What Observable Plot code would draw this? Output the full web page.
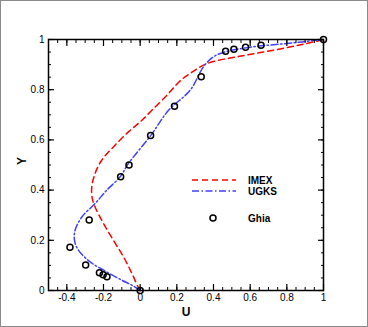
<!DOCTYPE html>
<html><head><meta charset="utf-8">
<script src="https://cdn.jsdelivr.net/npm/d3@7"></script>
<script src="https://cdn.jsdelivr.net/npm/@observablehq/plot@0.6"></script>
<style>
body{margin:0;background:#fff;}
#wrap{position:relative;width:368px;height:327px;overflow:hidden;}
#border{position:absolute;left:0;top:0;width:366px;height:325px;border:1px solid #8a8a8a;pointer-events:none;}
#legend{position:absolute;left:0;top:0;}
</style></head><body><div id="wrap"><div id="border"></div></div>
<script>
// Ghia et al. reference data
const ghiaY = [1, 0.9766, 0.9688, 0.9609, 0.9531, 0.8516, 0.7344, 0.6172, 0.5, 0.4531, 0.2813, 0.1719, 0.1016, 0.0703, 0.0625, 0.0547, 0];
const ghiaU = [1, 0.65928, 0.57492, 0.51117, 0.46604, 0.33304, 0.18719, 0.05702, -0.0608, -0.10648, -0.27805, -0.38289, -0.2973, -0.2222, -0.20196, -0.18109, 0];
// IMEX curve
const imexY = [0, 0.015, 0.068, 0.134, 0.2, 0.267, 0.333, 0.37, 0.413, 0.466, 0.519, 0.572, 0.632, 0.672, 0.718, 0.785, 0.835, 0.865, 0.904, 0.931, 0.955, 0.981, 1];
const imexU = [0, -0.012, -0.045, -0.091, -0.146, -0.2, -0.246, -0.262, -0.264, -0.246, -0.21, -0.146, -0.064, 0.0, 0.064, 0.155, 0.218, 0.273, 0.364, 0.527, 0.709, 0.89, 1];
// UGKS curve
const ugksY = [0, 0.021, 0.041, 0.074, 0.114, 0.161, 0.2, 0.24, 0.293, 0.347, 0.4, 0.453, 0.503, 0.617, 0.718, 0.798, 0.891, 0.931, 0.951, 0.971, 0.984, 1];
const ugksU = [0, -0.045, -0.1, -0.182, -0.273, -0.337, -0.358, -0.355, -0.318, -0.245, -0.182, -0.109, -0.067, 0.057, 0.155, 0.273, 0.345, 0.4, 0.464, 0.618, 0.8, 1];
// ticks
const xMajor = [-0.4, -0.2, 0, 0.2, 0.4, 0.6, 0.8, 1];
const xLabels = ["-0.4", "-0.2", "0", "0.2", "0.4", "0.6", "0.8", "1"];
const yMajor = [0, 0.2, 0.4, 0.6, 0.8, 1];
const yLabels = ["0", "0.2", "0.4", "0.6", "0.8", "1"];
const xMinor = d3.range(-30, 21).map(i => i * 0.05).filter(v => v >= -0.5 - 1e-9 && v <= 1 + 1e-9);
const yMinor = d3.range(0, 21).map(i => i * 0.05);
const seriesNames = ["IMEX", "UGKS", "Ghia"];
const colors = {IMEX: "#ff0000", UGKS: "#4040ff"};

const toRows = (us, ys) => us.map((u, i) => ({u, y: ys[i]}));
const imex = toRows(imexU, imexY), ugks = toRows(ugksU, ugksY), ghia = toRows(ghiaU, ghiaY);
const fmtX = d => xLabels[xMajor.indexOf(d)] ?? "";
const fmtY = d => yLabels[yMajor.indexOf(d)] ?? "";
const blank = () => "";
const font = "Arial, 'Liberation Sans', sans-serif";

const chart = Plot.plot({
  width: 368, height: 327,
  marginLeft: 48, marginRight: 45, marginTop: 39, marginBottom: 37,
  style: {fontFamily: font, fontSize: "10px", color: "black", background: "transparent"},
  x: {domain: [-0.5, 1], label: null},
  y: {domain: [0, 1], label: null},
  marks: [
    Plot.line(imex, {x: "u", y: "y", stroke: colors.IMEX, strokeWidth: 1.5, strokeDasharray: "6,4", curve: "catmull-rom"}),
    Plot.line(ugks, {x: "u", y: "y", stroke: colors.UGKS, strokeWidth: 1.5, strokeDasharray: "7,2.5,1.5,2.5", curve: "catmull-rom"}),
    Plot.dot(ghia, {x: "u", y: "y", r: 3, stroke: "black", strokeWidth: 1.5, fill: "none"}),
    Plot.axisX({anchor: "bottom", ticks: xMinor, tickSize: -3, tickFormat: blank, label: null, strokeWidth: 1}),
    Plot.axisX({anchor: "top", ticks: xMinor, tickSize: -3, tickFormat: blank, label: null, strokeWidth: 1}),
    Plot.axisX({anchor: "bottom", ticks: xMajor, tickSize: -6, tickFormat: blank, label: null, strokeWidth: 1.2}),
    Plot.axisX({anchor: "top", ticks: xMajor, tickSize: -6, tickFormat: blank, label: null, strokeWidth: 1.2}),
    Plot.axisX({anchor: "bottom", ticks: xMajor, tickSize: 0, tickPadding: 3, tickFormat: fmtX, label: null}),
    Plot.axisY({anchor: "left", ticks: yMinor, tickSize: -3, tickFormat: blank, label: null, strokeWidth: 1}),
    Plot.axisY({anchor: "right", ticks: yMinor, tickSize: -3, tickFormat: blank, label: null, strokeWidth: 1}),
    Plot.axisY({anchor: "left", ticks: yMajor, tickSize: -6, tickFormat: blank, label: null, strokeWidth: 1.2}),
    Plot.axisY({anchor: "right", ticks: yMajor, tickSize: -6, tickFormat: blank, label: null, strokeWidth: 1.2}),
    Plot.axisY({anchor: "left", ticks: yMajor, tickSize: 0, tickPadding: 4, tickFormat: fmtY, label: null}),
    Plot.frame({stroke: "black", strokeWidth: 1.5}),
    Plot.text(["U"], {frameAnchor: "bottom", dy: 25, fontWeight: "bold", fontSize: 12}),
    Plot.text(["Y"], {frameAnchor: "left", dx: -26, rotate: -90, fontWeight: "bold", fontSize: 12})
  ]
});
document.getElementById("wrap").appendChild(chart);

// legend overlay
const lg = d3.select("#wrap").append("svg").attr("id", "legend").attr("width", 368).attr("height", 327)
  .style("font-family", font).style("font-size", "10px").style("font-weight", "bold");
const legendRows = [
  {name: seriesNames[0], y: 180, kind: "line", dash: "6,4"},
  {name: seriesNames[1], y: 191, kind: "line", dash: "7,2.5,1.5,2.5"},
  {name: seriesNames[2], y: 218, kind: "dot"}
];
legendRows.forEach(r => {
  if (r.kind === "line") {
    lg.append("line").attr("x1", 192).attr("x2", 236).attr("y1", r.y).attr("y2", r.y)
      .attr("stroke", colors[r.name]).attr("stroke-width", 1.5).attr("stroke-dasharray", r.dash);
  } else {
    lg.append("circle").attr("cx", 213).attr("cy", r.y).attr("r", 3)
      .attr("fill", "none").attr("stroke", "black").attr("stroke-width", 1.5);
  }
  lg.append("text").attr("x", 248).attr("y", r.y).attr("dy", "0.35em").text(r.name);
});
</script>
</body></html>
